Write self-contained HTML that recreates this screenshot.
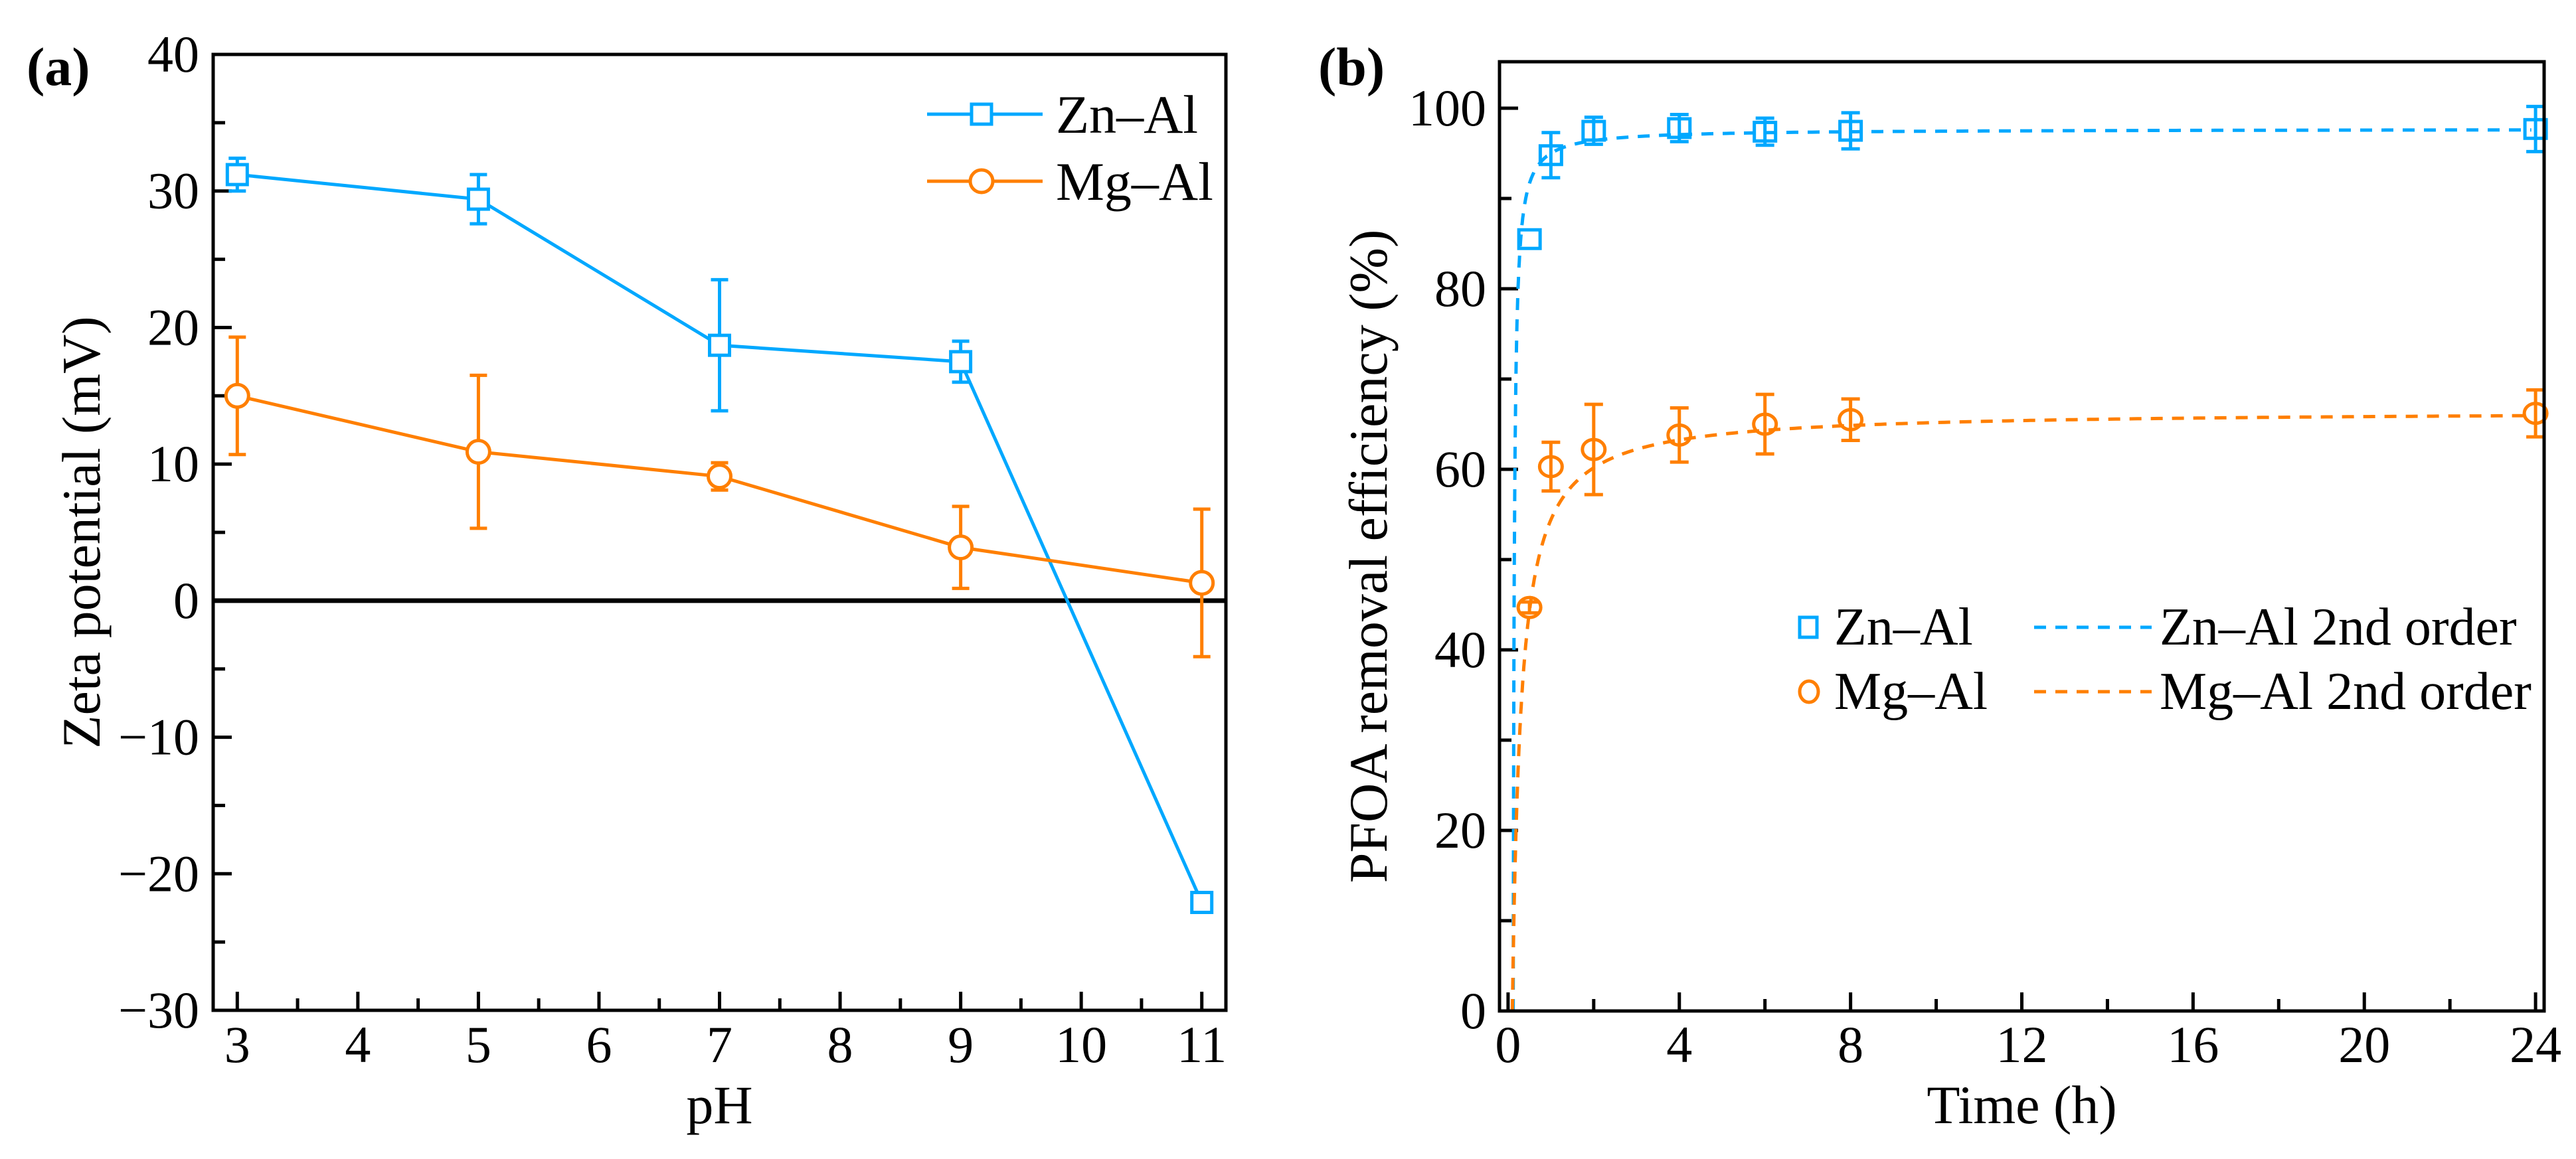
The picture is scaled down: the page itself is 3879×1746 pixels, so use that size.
<!DOCTYPE html>
<html><head><meta charset="utf-8"><style>
html,body{margin:0;padding:0;background:#fff;}
svg{display:block;}
svg text{font-family:"Times New Roman","Liberation Serif","Noto Serif CJK SC",serif;font-weight:normal;}
svg text.bold{font-weight:bold;}
</style></head><body>
<svg id="fig" width="3879" height="1746" viewBox="0 0 3879 1746" xmlns="http://www.w3.org/2000/svg">
<rect x="0" y="0" width="3879" height="1746" fill="#fff"/>
</svg>
<script>
// ---- Panel (a) data ----
const phValues = [3, 5, 7, 9, 11];
const znZeta = [31.2, 29.4, 18.7, 17.5, -22.1];
const znZetaErr = [1.2, 1.8, 4.8, 1.5, 0];
const mgZeta = [15.0, 10.9, 9.1, 3.9, 1.3];
const mgZetaErr = [4.3, 5.6, 1.0, 3.0, 5.4];
const aYTicks = [40, 30, 20, 10, 0, -10, -20, -30];
const aYTickLabels = ['40', '30', '20', '10', '0', '\u221210', '\u221220', '\u221230'];
const aXTicks = [3, 4, 5, 6, 7, 8, 9, 10, 11];
// ---- Panel (b) data ----
const timeValues = [0.5, 1, 2, 4, 6, 8, 24];
const znRemoval = [85.5, 94.8, 97.5, 97.8, 97.4, 97.5, 97.7];
const znRemovalErr = [0, 2.5, 1.5, 1.5, 1.5, 2.0, 2.5];
const mgRemoval = [44.7, 60.3, 62.2, 63.8, 65.0, 65.5, 66.2];
const mgRemovalErr = [0.6, 2.7, 5.0, 3.0, 3.3, 2.3, 2.6];
// pseudo-second-order fit params: [qe, h, t0]
const znFit = [97.7, 40, 0.12];
const mgFit = [66.5, 5, 0.10];
const bYTicks = [0, 20, 40, 60, 80, 100];
const bXTicks = [0, 4, 8, 12, 16, 20, 24];

const BLUE = '#00A8FF', ORANGE = '#FF7F00';
const NS = 'http://www.w3.org/2000/svg';
const svg = document.getElementById('fig');
function mk(tag, attrs, parent, text) {
  const e = document.createElementNS(NS, tag);
  for (const k in attrs) e.setAttribute(k, attrs[k]);
  if (text !== undefined) e.textContent = text;
  (parent || svg).appendChild(e);
  return e;
}
function lin(d0, d1, r0, r1) { return v => r0 + (v - d0) * (r1 - r0) / (d1 - d0); }

// ================= Panel A =================
const A = {l: 321, r: 1846, t: 82, b: 1522};
const ax = lin(2.8, 11.2, A.l, A.r), ay = lin(-30, 40, A.b, A.t);
const gA = mk('g', {});


let t = mk('text', {x: 40, y: 128, 'font-size': 82, class: 'bold'}, gA, '(a)');
 
for (let v = -30; v <= 40; v += 5) {
  const y = ay(v), len = (v % 10 === 0) ? 28 : 18;
  const tk = mk('line', {x1: A.l, x2: A.l + len, y1: y, y2: y, stroke: '#000', 'stroke-width': 5}, gA);
   
}
aYTicks.forEach((v, i) => {
  const e = mk('text', {x: 300, y: ay(v) + 26, 'font-size': 78, 'text-anchor': 'end'}, gA, aYTickLabels[i]);
   
});
for (let v = 3; v <= 11; v += 0.5) {
  const x = ax(v), len = (v % 1 === 0) ? 28 : 18;
  const tk = mk('line', {x1: x, x2: x, y1: A.b, y2: A.b - len, stroke: '#000', 'stroke-width': 5}, gA);
   
}
aXTicks.forEach(v => {
  const e = mk('text', {x: ax(v), y: 1600, 'font-size': 78, 'text-anchor': 'middle'}, gA, String(v));
   
});
let zl = mk('line', {x1: A.l, x2: A.r, y1: ay(0), y2: ay(0), stroke: '#000', 'stroke-width': 7}, gA);
 
function seriesA(vals, errs, color, marker, name) {
  const g = mk('g', {}, gA);
   
  const pts = phValues.map((p, i) => ax(p) + ',' + ay(vals[i])).join(' ');
  const pl = mk('polyline', {points: pts, fill: 'none', stroke: color, 'stroke-width': 5}, g);
   
  phValues.forEach((p, i) => {
    const x = ax(p), y = ay(vals[i]);
    if (errs[i] > 0) {
      const y1 = ay(vals[i] + errs[i]), y2 = ay(vals[i] - errs[i]);
      const eb = mk('path', {d: `M${x},${y1}V${y2}M${x - 13},${y1}H${x + 13}M${x - 13},${y2}H${x + 13}`, stroke: color, 'stroke-width': 5, fill: 'none'}, g);
       
    }
    let m;
    if (marker === 'square') m = mk('rect', {x: x - 15, y: y - 15, width: 30, height: 30, fill: '#fff', stroke: color, 'stroke-width': 5}, g);
    else m = mk('circle', {cx: x, cy: y, r: 17, fill: '#fff', stroke: color, 'stroke-width': 5}, g);
     
  });
}
seriesA(znZeta, znZetaErr, BLUE, 'square', 'zn-al-series');
seriesA(mgZeta, mgZetaErr, ORANGE, 'circle', 'mg-al-series');
let fa = mk('rect', {x: A.l, y: A.t, width: A.r - A.l, height: A.b - A.t, fill: 'none', stroke: '#000', 'stroke-width': 5}, gA);
 
const lgA = mk('g', {}, gA);
 
[[BLUE, 'square', 'Zn\u2013Al', 172], [ORANGE, 'circle', 'Mg\u2013Al', 273]].forEach(([c, mkr, lab, y]) => {
  const l = mk('line', {x1: 1396, x2: 1570, y1: y, y2: y, stroke: c, 'stroke-width': 5}, lgA);
   
  let m;
  if (mkr === 'square') m = mk('rect', {x: 1463, y: y - 15, width: 30, height: 30, fill: '#fff', stroke: c, 'stroke-width': 5}, lgA);
  else m = mk('circle', {cx: 1478, cy: y, r: 17, fill: '#fff', stroke: c, 'stroke-width': 5}, lgA);
   
  const tx = mk('text', {x: 1590, y: y + 28, 'font-size': 82}, lgA, lab);
   
});
let ta = mk('text', {x: 0, y: 0, 'font-size': 82, 'text-anchor': 'middle', transform: `translate(150,${(A.t + A.b) / 2}) rotate(-90)`}, gA, 'Zeta potential (mV)');
 
let xa = mk('text', {x: (A.l + A.r) / 2, y: 1692, 'font-size': 82, 'text-anchor': 'middle'}, gA, 'pH');
 

// ================= Panel B =================
const B = {l: 2258, r: 3831, t: 93, b: 1523};
const bx = lin(-0.2, 24.2, B.l, B.r), by = lin(0, 105.15, B.b, B.t);
const gB = mk('g', {});


t = mk('text', {x: 1985, y: 128, 'font-size': 82, class: 'bold'}, gB, '(b)');
 
for (let v = 0; v <= 100; v += 10) {
  const y = by(v), len = (v % 20 === 0) ? 28 : 18;
  const tk = mk('line', {x1: B.l, x2: B.l + len, y1: y, y2: y, stroke: '#000', 'stroke-width': 5}, gB);
   
}
bYTicks.forEach(v => {
  const e = mk('text', {x: 2238, y: by(v) + 26, 'font-size': 78, 'text-anchor': 'end'}, gB, String(v));
   
});
for (let v = 0; v <= 24; v += 2) {
  const x = bx(v), len = (v % 4 === 0) ? 28 : 18;
  const tk = mk('line', {x1: x, x2: x, y1: B.b, y2: B.b - len, stroke: '#000', 'stroke-width': 5}, gB);
   
}
bXTicks.forEach(v => {
  const e = mk('text', {x: bx(v), y: 1600, 'font-size': 78, 'text-anchor': 'middle'}, gB, String(v));
   
});
function fitPath(p) {
  const [qe, h, t0] = p; let d = '';
  const ts = [];
  for (let s = t0; s < 2; s += 0.005) ts.push(s);
  for (let s = 2; s <= 24; s += 0.1) ts.push(s);
  ts.forEach((s, i) => {
    const q = qe * h * (s - t0) / (1 + h * (s - t0));
    d += (i ? 'L' : 'M') + bx(s).toFixed(1) + ',' + by(q).toFixed(1);
  });
  return d;
}
let f1 = mk('path', {d: fitPath(znFit), fill: 'none', stroke: BLUE, 'stroke-width': 5, 'stroke-dasharray': '18,14'}, gB);
 
let f2 = mk('path', {d: fitPath(mgFit), fill: 'none', stroke: ORANGE, 'stroke-width': 5, 'stroke-dasharray': '18,14'}, gB);
 
function seriesB(vals, errs, color, marker, name) {
  const g = mk('g', {}, gB);
   
  timeValues.forEach((tt, i) => {
    const x = bx(tt), y = by(vals[i]);
    if (errs[i] > 0) {
      const y1 = by(vals[i] + errs[i]), y2 = by(vals[i] - errs[i]);
      const eb = mk('path', {d: `M${x},${y1}V${y2}M${x - 14},${y1}H${x + 14}M${x - 14},${y2}H${x + 14}`, stroke: color, 'stroke-width': 5, fill: 'none'}, g);
       
    }
    let m;
    if (marker === 'square') m = mk('rect', {x: x - 16, y: y - 14, width: 32, height: 28, fill: 'none', stroke: color, 'stroke-width': 5}, g);
    else m = mk('ellipse', {cx: x, cy: y, rx: 17, ry: 15, fill: 'none', stroke: color, 'stroke-width': 5}, g);
     
  });
}
seriesB(znRemoval, znRemovalErr, BLUE, 'square', 'zn-al-series');
seriesB(mgRemoval, mgRemovalErr, ORANGE, 'circle', 'mg-al-series');
let fb = mk('rect', {x: B.l, y: B.t, width: B.r - B.l, height: B.b - B.t, fill: 'none', stroke: '#000', 'stroke-width': 5}, gB);
 
const lgB = mk('g', {}, gB);
 
[[BLUE, 'square', 'Zn\u2013Al', 'Zn\u2013Al 2nd order', 945], [ORANGE, 'circle', 'Mg\u2013Al', 'Mg\u2013Al 2nd order', 1042]].forEach(([c, mkr, lab, lab2, y]) => {
  let m;
  if (mkr === 'square') m = mk('rect', {x: 2710, y: y - 15, width: 26, height: 30, fill: 'none', stroke: c, 'stroke-width': 5}, lgB);
  else m = mk('ellipse', {cx: 2724, cy: y, rx: 14, ry: 16, fill: 'none', stroke: c, 'stroke-width': 5}, lgB);
   
  const tx = mk('text', {x: 2762, y: y + 26, 'font-size': 80}, lgB, lab);
   
  const l = mk('line', {x1: 3063, x2: 3240, y1: y, y2: y, stroke: c, 'stroke-width': 5, 'stroke-dasharray': '18,14'}, lgB);
   
  const tx2 = mk('text', {x: 3252, y: y + 26, 'font-size': 80}, lgB, lab2);
   
});
let tb = mk('text', {x: 0, y: 0, 'font-size': 82, 'text-anchor': 'middle', transform: `translate(2088,${(B.t + B.b) / 2 + 30}) rotate(-90)`}, gB, 'PFOA removal efficiency (%)');
 
let xb = mk('text', {x: (B.l + B.r) / 2, y: 1692, 'font-size': 82, 'text-anchor': 'middle'}, gB, 'Time (h)');
 
</script>
</body></html>
